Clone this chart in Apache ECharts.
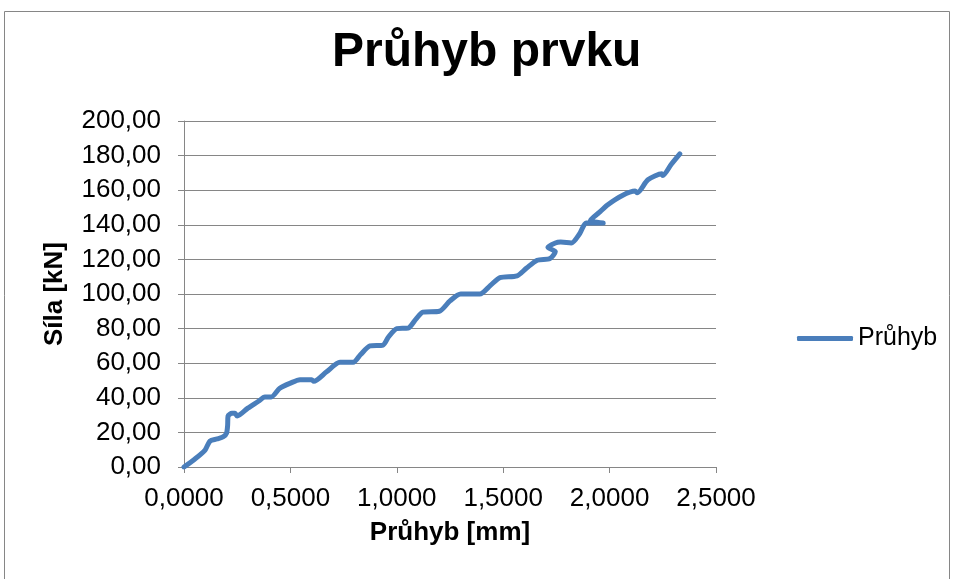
<!DOCTYPE html>
<html>
<head>
<meta charset="utf-8">
<title>Průhyb prvku</title>
<script src="https://cdn.jsdelivr.net/npm/echarts@6/dist/echarts.min.js"></script>
<style>
  html, body { margin: 0; padding: 0; background: #fff; }
  #chart { width: 954px; height: 579px; }
</style>
</head>
<body>
<div id="chart"></div>
<script>
// deflection [mm] vs force [kN]
const deflection = [
  0, 0.05, 0.099, 0.122, 0.155, 0.185, 0.2, 0.205, 0.207, 0.225, 0.24, 0.25,
  0.3, 0.35, 0.38, 0.41, 0.45, 0.5, 0.545, 0.6, 0.61, 0.67, 0.733, 0.795,
  0.83, 0.874, 0.935, 0.96, 1.0, 1.053, 1.09, 1.123, 1.2, 1.25, 1.3, 1.39,
  1.44, 1.485, 1.565, 1.61, 1.66, 1.72, 1.745, 1.71, 1.745, 1.77, 1.82,
  1.86, 1.89, 1.97, 1.91, 1.95, 1.99, 2.06, 2.12, 2.13, 2.18, 2.246, 2.25,
  2.29, 2.33
];
const force = [
  0, 4.5, 9.8, 15, 16.2, 17.5, 19.6, 24, 29.5, 31, 31, 29.5,
  34, 38, 40.5, 40.5, 45.5, 48.5, 50.5, 50.5, 49.5, 55, 60.5, 60.5,
  65, 70, 70.5, 75, 80, 80.3, 85.5, 89.5, 90, 96, 100, 100,
  105, 109.5, 110.5, 115, 119.5, 120.5, 124.5, 127, 129.5, 130, 129.5,
  135, 141, 141, 142.5, 147, 151.5, 157, 159.5, 158.5, 166, 169.5, 168.5,
  175, 181
];
const seriesName = 'Průhyb';
const titleText = 'Průhyb prvku';
const xName = 'Průhyb [mm]';
const yName = 'Síla [kN]';

const font = "'Liberation Sans', Arial, sans-serif";
const grey = '#868686';
const blue = '#4a7ebb';

const chart = echarts.init(document.getElementById('chart'));

chart.setOption({
  backgroundColor: '#fff',
  animation: false,
  textStyle: { fontFamily: font },
  title: {
    text: titleText,
    left: 327,
    top: 24,
    textStyle: { fontSize: 48, fontWeight: 'bold', color: '#000', fontFamily: font }
  },
  legend: {
    data: [seriesName],
    left: 797,
    top: 326,
    padding: 0,
    icon: 'roundRect',
    itemWidth: 56,
    itemHeight: 5,
    itemGap: 5,
    textStyle: { fontSize: 25, color: '#000', fontFamily: font, padding: [0, 0, 0, 0] }
  },
  grid: {
    left: 184,
    right: 238,
    top: 121,
    bottom: 112,
    containLabel: false
  },
  xAxis: {
    type: 'value',
    min: 0,
    max: 2.5,
    interval: 0.5,
    name: xName,
    nameLocation: 'middle',
    nameGap: 53,
    nameTextStyle: { fontSize: 26, fontWeight: 'bold', color: '#000', fontFamily: font },
    axisLine: { show: true, lineStyle: { color: grey, width: 1 } },
    axisTick: { show: true, length: 6, lineStyle: { color: grey } },
    splitLine: { show: false },
    axisLabel: {
      fontSize: 26,
      color: '#000',
      margin: 19,
      formatter: v => v.toFixed(4).replace('.', ',')
    }
  },
  yAxis: {
    type: 'value',
    min: 0,
    max: 200,
    interval: 20,
    name: yName,
    nameLocation: 'middle',
    nameGap: 116,
    nameTextStyle: { fontSize: 26, fontWeight: 'bold', color: '#000', fontFamily: font },
    axisLine: { show: true, lineStyle: { color: grey, width: 1 } },
    axisTick: { show: true, length: 6, lineStyle: { color: grey } },
    splitLine: { show: true, lineStyle: { color: grey, width: 1 } },
    axisLabel: {
      fontSize: 26,
      color: '#000',
      margin: 23,
      formatter: v => v.toFixed(2).replace('.', ',')
    }
  },
  graphic: [{
    type: 'rect',
    shape: { x: 4.5, y: 11.5, width: 945, height: 600 },
    style: { fill: 'none', stroke: grey, lineWidth: 1 },
    z: -1
  }],
  series: [{
    name: seriesName,
    type: 'line',
    symbol: 'none',
    smooth: 0.25,
    data: deflection.map((d, i) => [d, force[i]]),
    color: blue,
    lineStyle: { width: 5, color: blue, cap: 'round', join: 'round' }
  }]
});
</script>
</body>
</html>
